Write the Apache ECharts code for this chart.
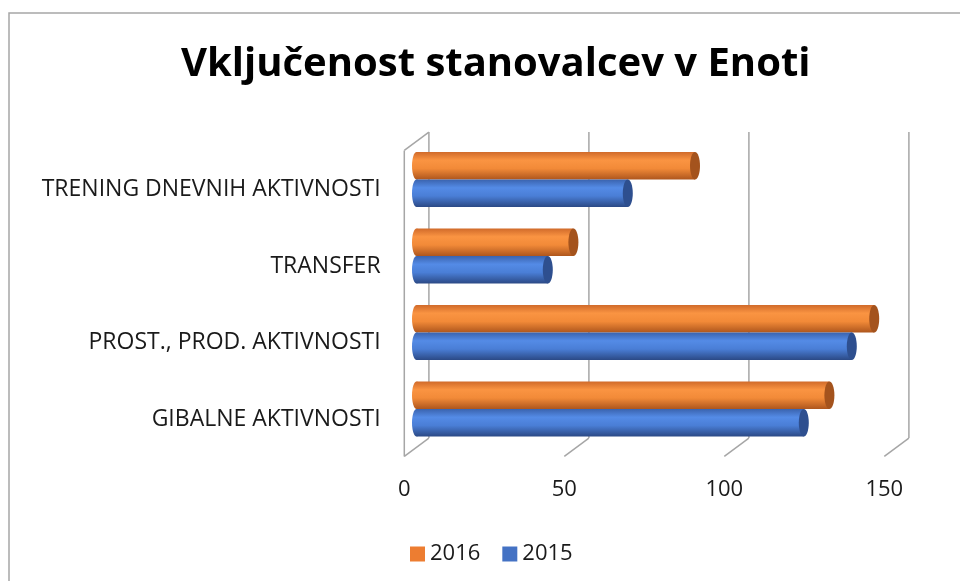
<!DOCTYPE html>
<html>
<head>
<meta charset="utf-8">
<script src="https://cdn.jsdelivr.net/npm/echarts@6/dist/echarts.min.js"></script>
<style>
  html, body { margin: 0; padding: 0; background: #fff; }
  #main { width: 960px; height: 581px; }
</style>
</head>
<body>
<div id="main"></div>
<script>
// podatki
var categories = ['GIBALNE AKTIVNOSTI', 'PROST., PROD. AKTIVNOSTI', 'TRANSFER', 'TRENING DNEVNIH AKTIVNOSTI'];
var values2016 = [129, 143, 49, 87];
var values2015 = [121, 136, 41, 66];
var ticks = [0, 50, 100, 150];

var myChart = echarts.init(document.getElementById('main'));

// 3D "globina" okvirja
var DX = 12.3, DY = 9.2;

function grad(stops) {
    return new echarts.graphic.LinearGradient(0, 0, 0, 1, stops);
}
var orangeGrad = [
    { offset: 0, color: '#D06A2A' },
    { offset: 0.3, color: '#FA9442' },
    { offset: 0.6, color: '#F28A38' },
    { offset: 1, color: '#AE561D' }
];
var blueGrad = [
    { offset: 0, color: '#3A63AE' },
    { offset: 0.3, color: '#548BE6' },
    { offset: 0.6, color: '#4A7ED6' },
    { offset: 1, color: '#2B4985' }
];

// valj (cilinder) za vsak podatek
function cylinder(upper, stops, capColor) {
    return function (params, api) {
        var start = api.coord([0, api.value(1)]);
        var end = api.coord([api.value(0), api.value(1)]);
        var band = api.size([0, 1])[1];
        var h = band * 0.36;
        var y = upper ? start[1] - h : start[1];
        var g = grad(stops);
        return {
            type: 'group',
            children: [
                { type: 'ellipse', shape: { cx: start[0], cy: y + h / 2, rx: 4.6, ry: h / 2 }, style: { fill: g } },
                { type: 'rect', shape: { x: start[0], y: y, width: end[0] - start[0], height: h }, style: { fill: g } },
                { type: 'ellipse', shape: { cx: end[0], cy: y + h / 2, rx: 5, ry: h / 2 }, style: { fill: capColor } }
            ]
        };
    };
}

// mrezne crte stene in tal
function frame(params, api) {
    var v = api.value(0);
    var x = api.coord([v, 0])[0];
    var cs = params.coordSys;
    var top = cs.y, bottom = cs.y + cs.height;
    var st = { stroke: '#A6A6A6', lineWidth: 1.5 };
    var children = [
        { type: 'line', shape: { x1: x + DX, y1: top - DY, x2: x + DX, y2: bottom - DY }, style: st },
        { type: 'line', shape: { x1: x - DX, y1: bottom + DY, x2: x + DX, y2: bottom - DY }, style: st }
    ];
    if (v === ticks[0]) {
        children.push({ type: 'line', shape: { x1: x - DX, y1: top + DY, x2: x - DX, y2: bottom + DY }, style: st });
        children.push({ type: 'line', shape: { x1: x - DX, y1: top + DY, x2: x + DX, y2: top - DY }, style: st });
    }
    return { type: 'group', children: children };
}

var option = {
    backgroundColor: '#fff',
    textStyle: { fontFamily: 'Open Sans' },
    title: {
        text: 'Vključenost stanovalcev v Enoti',
        left: 176,
        top: 40,
        textStyle: { fontFamily: 'Open Sans', fontWeight: 'bold', fontSize: 40, color: '#000' }
    },
    legend: {
        data: ['2016', '2015'],
        left: 405,
        top: 538,
        icon: 'rect',
        itemWidth: 15,
        itemHeight: 15,
        itemGap: 22,
        textStyle: { fontFamily: 'Open Sans', fontSize: 22, color: '#1a1a1a' }
    },
    graphic: [{
        type: 'rect',
        shape: { x: 9, y: 13, width: 1000, height: 700 },
        style: { fill: 'none', stroke: '#A6A6A6', lineWidth: 1.5 },
        silent: true
    }],
    grid: {
        left: 416.6,
        right: 63.4,
        top: 141.25,
        bottom: 133.75
    },
    xAxis: {
        type: 'value',
        min: 0,
        max: 150,
        interval: 50,
        axisLine: { show: false },
        axisTick: { show: false },
        splitLine: { show: false },
        axisLabel: {
            margin: 31,
            padding: [0, 24.6, 0, 0],
            fontFamily: 'Open Sans',
            fontSize: 22,
            color: '#1a1a1a'
        }
    },
    yAxis: {
        type: 'category',
        data: categories,
        axisLine: { show: false },
        axisTick: { show: false },
        axisLabel: {
            margin: 36,
            verticalAlign: 'top',
            lineHeight: 20,
            fontFamily: 'Open Sans',
            fontSize: 23,
            color: '#1a1a1a'
        }
    },
    series: [
        {
            name: 'okvir',
            type: 'custom',
            renderItem: frame,
            data: ticks.map(function (t) { return [t, 0]; }),
            encode: { x: 0, y: 1 },
            silent: true,
            z: 1
        },
        {
            name: '2016',
            type: 'custom',
            renderItem: cylinder(true, orangeGrad, '#A4531D'),
            itemStyle: { color: '#ED7D31' },
            data: values2016.map(function (v, i) { return [v, i]; }),
            encode: { x: 0, y: 1 },
            z: 2
        },
        {
            name: '2015',
            type: 'custom',
            renderItem: cylinder(false, blueGrad, '#2E4F8F'),
            itemStyle: { color: '#4472C4' },
            data: values2015.map(function (v, i) { return [v, i]; }),
            encode: { x: 0, y: 1 },
            z: 2
        }
    ]
};

myChart.setOption(option);
</script>
</body>
</html>
